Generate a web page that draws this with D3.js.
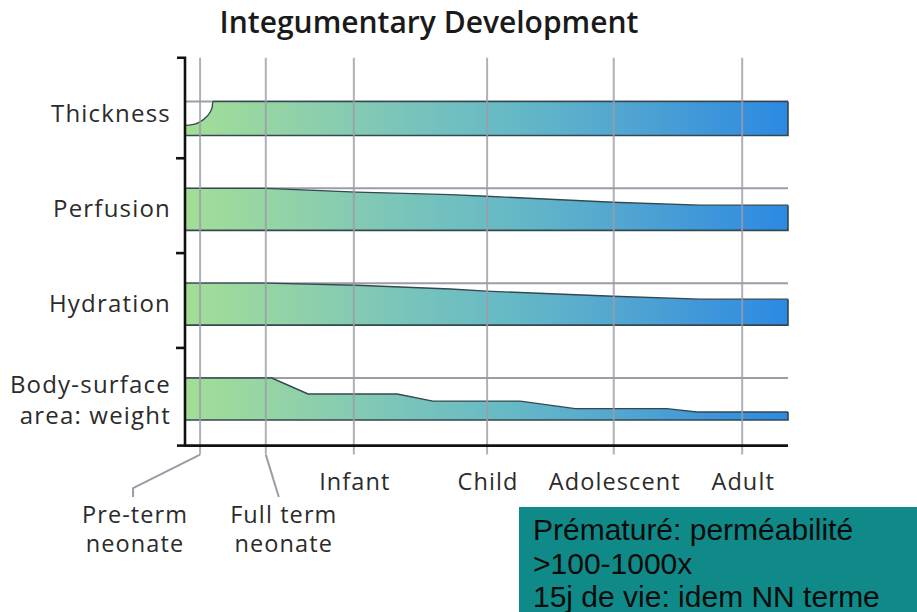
<!DOCTYPE html>
<html>
<head>
<meta charset="utf-8">
<script src="https://cdn.jsdelivr.net/npm/d3@7"></script>
<style>
  html, body { margin: 0; padding: 0; background: #fff; }
  svg { display: block; }
</style>
</head>
<body>
<svg id="chart" width="917" height="612"></svg>
<script>
// ---------- data ----------
const title = "Integumentary Development";
const rows = ["Thickness", "Perfusion", "Hydration", "Body-surface\narea: weight"];
const stages = ["Pre-term\nneonate", "Full term\nneonate", "Infant", "Child", "Adolescent", "Adult"];
// position of each stage on the development timeline (0 = left end of chart, 100 = right end)
const stagePos = [2.5, 13.4, 28.0, 50.1, 71.1, 92.4];

// relative level profiles (1 = reference level of the row)
const thicknessAge = [0, 1.2, 2.32, 3.28, 4.02, 4.49, 4.64, 100];
const thicknessVal = [0.24, 0.258, 0.315, 0.406, 0.524, 0.662, 0.81, 0.81];
const thicknessRef = 0.81;

const perfusionAge = [0, 13.4, 28.5, 44, 50, 71, 85.4, 100];
const perfusionVal = [1, 1, 0.91, 0.85, 0.81, 0.67, 0.60, 0.60];

const hydrationAge = [0, 13.6, 28.5, 44, 50, 71, 85.4, 100];
const hydrationVal = [1, 1, 0.95, 0.86, 0.81, 0.69, 0.62, 0.62];

const bsaAge = [0, 14.4, 20.4, 35.2, 41.1, 55.6, 64.7, 79.9, 84.9, 100];
const bsaVal = [1, 1, 0.62, 0.62, 0.45, 0.45, 0.27, 0.27, 0.19, 0.19];

const noteLines = ["Prématuré: perméabilité", ">100-1000x", "15j de vie: idem NN terme"];

// ---------- setup ----------
const series = [
  { name: rows[0], age: thicknessAge, val: thicknessVal, ref: thicknessRef, curve: d3.curveMonotoneX },
  { name: rows[1], age: perfusionAge, val: perfusionVal, ref: 1, curve: d3.curveLinear },
  { name: rows[2], age: hydrationAge, val: hydrationVal, ref: 1, curve: d3.curveLinear },
  { name: rows[3], age: bsaAge, val: bsaVal, ref: 1, curve: d3.curveLinear }
];

const svg = d3.select("#chart");
const x = d3.scaleLinear().domain([0, 100]).range([185, 788]);
const rowBase = d3.scalePoint().domain(rows).range([135.5, 420]);
const step = rowBase.step();
const h = d3.scaleLinear().domain([0, 1]).range([0, 42]);

const axisTop = rowBase(rows[0]) - 0.82 * step;
const axisBottom = rowBase(rows[rows.length - 1]) + 0.27 * step;

const textFont = "'Open Sans', 'Noto Sans', sans-serif";
const textColor = "#2b2b2b";

// gradient
const defs = svg.append("defs");
const grad = defs.append("linearGradient")
  .attr("id", "bandGrad").attr("gradientUnits", "userSpaceOnUse")
  .attr("x1", x(0)).attr("x2", x(100)).attr("y1", 0).attr("y2", 0);
[["0%", "#a3de96"], ["20%", "#8fd0ab"], ["40%", "#75c2bd"], ["55%", "#65b8c6"],
 ["75%", "#4fa3d2"], ["100%", "#2c89e2"]].forEach(([o, c]) =>
  grad.append("stop").attr("offset", o).attr("stop-color", c));

// title
svg.append("text")
  .attr("x", 429).attr("y", 33)
  .attr("text-anchor", "middle")
  .attr("font-family", textFont).attr("font-weight", 600)
  .attr("font-size", 30).attr("fill", "#1a1a1a")
  .text(title);

// bands
series.forEach(s => {
  const base = rowBase(s.name);
  const pts = s.age.map((a, i) => [a, s.val[i]]);
  const ar = d3.area()
    .x(d => x(d[0]))
    .y0(base)
    .y1(d => base - h(d[1]))
    .curve(s.curve);
  // reference line at row's top level
  svg.append("line")
    .attr("x1", x(0)).attr("x2", x(100))
    .attr("y1", base - h(s.ref)).attr("y2", base - h(s.ref))
    .attr("stroke", "#9d9daa").attr("stroke-width", 2);
  svg.append("path")
    .datum(pts)
    .attr("d", ar)
    .attr("fill", "url(#bandGrad)");
  const top = d3.line().x(d => x(d[0])).y(d => base - h(d[1])).curve(s.curve);
  svg.append("path")
    .datum(pts)
    .attr("d", top)
    .attr("fill", "none").attr("stroke", "#34484f").attr("stroke-width", 1.4);
  const last = pts[pts.length - 1];
  svg.append("path")
    .attr("d", `M${x(last[0])},${base - h(last[1])}V${base}H${x(0)}`)
    .attr("fill", "none").attr("stroke", "#34484f").attr("stroke-width", 1.6);
});

// vertical gridlines
svg.selectAll("line.grid")
  .data(stagePos)
  .join("line")
  .attr("class", "grid")
  .attr("x1", d => x(d)).attr("x2", d => x(d))
  .attr("y1", axisTop).attr("y2", axisBottom + 9)
  .attr("stroke", "#9c9ca8").attr("stroke-opacity", 0.8).attr("stroke-width", 2);

// axes (black)
const yTicks = rows.slice(0, rows.length - 1).map(r => rowBase(r) + 0.24 * step);
svg.append("path")
  .attr("d", `M${x(0) - 8},${axisTop}H${x(0)}V${axisBottom}H${x(100)}`)
  .attr("fill", "none").attr("stroke", "#111").attr("stroke-width", 2.6);
svg.append("path")
  .attr("d", `M${x(0) - 8},${axisBottom}H${x(0)}`)
  .attr("fill", "none").attr("stroke", "#111").attr("stroke-width", 2.6);
svg.selectAll("line.ytick")
  .data(yTicks)
  .join("line")
  .attr("class", "ytick")
  .attr("x1", x(0) - 9).attr("x2", x(0))
  .attr("y1", d => d).attr("y2", d => d)
  .attr("stroke", "#111").attr("stroke-width", 2.6);

// row labels
series.forEach(s => {
  const base = rowBase(s.name);
  const lines = s.name.split("\n");
  const t = svg.append("text")
    .attr("text-anchor", "end")
    .attr("font-family", textFont).attr("font-size", 24)
    .attr("letter-spacing", 1.2)
    .attr("fill", textColor);
  const y0 = lines.length === 1 ? base - 13.5 : base - 27;
  lines.forEach((l, i) => t.append("tspan").attr("x", 171).attr("y", y0 + i * 31).text(l));
});

// stage labels
stages.forEach((st, i) => {
  const sx = x(stagePos[i]);
  const lines = st.split("\n");
  let lx, ly;
  if (i === 0) {
    lx = sx - 65; ly = 523;
    svg.append("path")
      .attr("d", `M${sx},${axisBottom + 9}L${lx - 2},${488}V${497}`)
      .attr("fill", "none").attr("stroke", "#9c9ca8").attr("stroke-width", 2);
  } else if (i === 1) {
    lx = sx + 18; ly = 523;
    svg.append("path")
      .attr("d", `M${sx},${axisBottom + 9}L${sx + 13},${497}`)
      .attr("fill", "none").attr("stroke", "#9c9ca8").attr("stroke-width", 2);
  } else {
    lx = sx + 1; ly = 490;
  }
  const t = svg.append("text")
    .attr("text-anchor", "middle")
    .attr("font-family", textFont).attr("font-size", 23.5)
    .attr("letter-spacing", 1.1)
    .attr("fill", textColor);
  lines.forEach((l, k) => t.append("tspan").attr("x", lx).attr("y", ly + k * 29).text(l));
});

// note box
svg.append("rect")
  .attr("x", 519).attr("y", 507).attr("width", 398).attr("height", 105)
  .attr("fill", "#0f8a88");
const nt = svg.append("text")
  .attr("font-family", "'Liberation Sans', Arial, sans-serif")
  .attr("font-size", 30).attr("fill", "#0b0b0b");
noteLines.forEach((l, i) => nt.append("tspan").attr("x", 533).attr("y", 540 + i * 33.5).text(l));
</script>
</body>
</html>
